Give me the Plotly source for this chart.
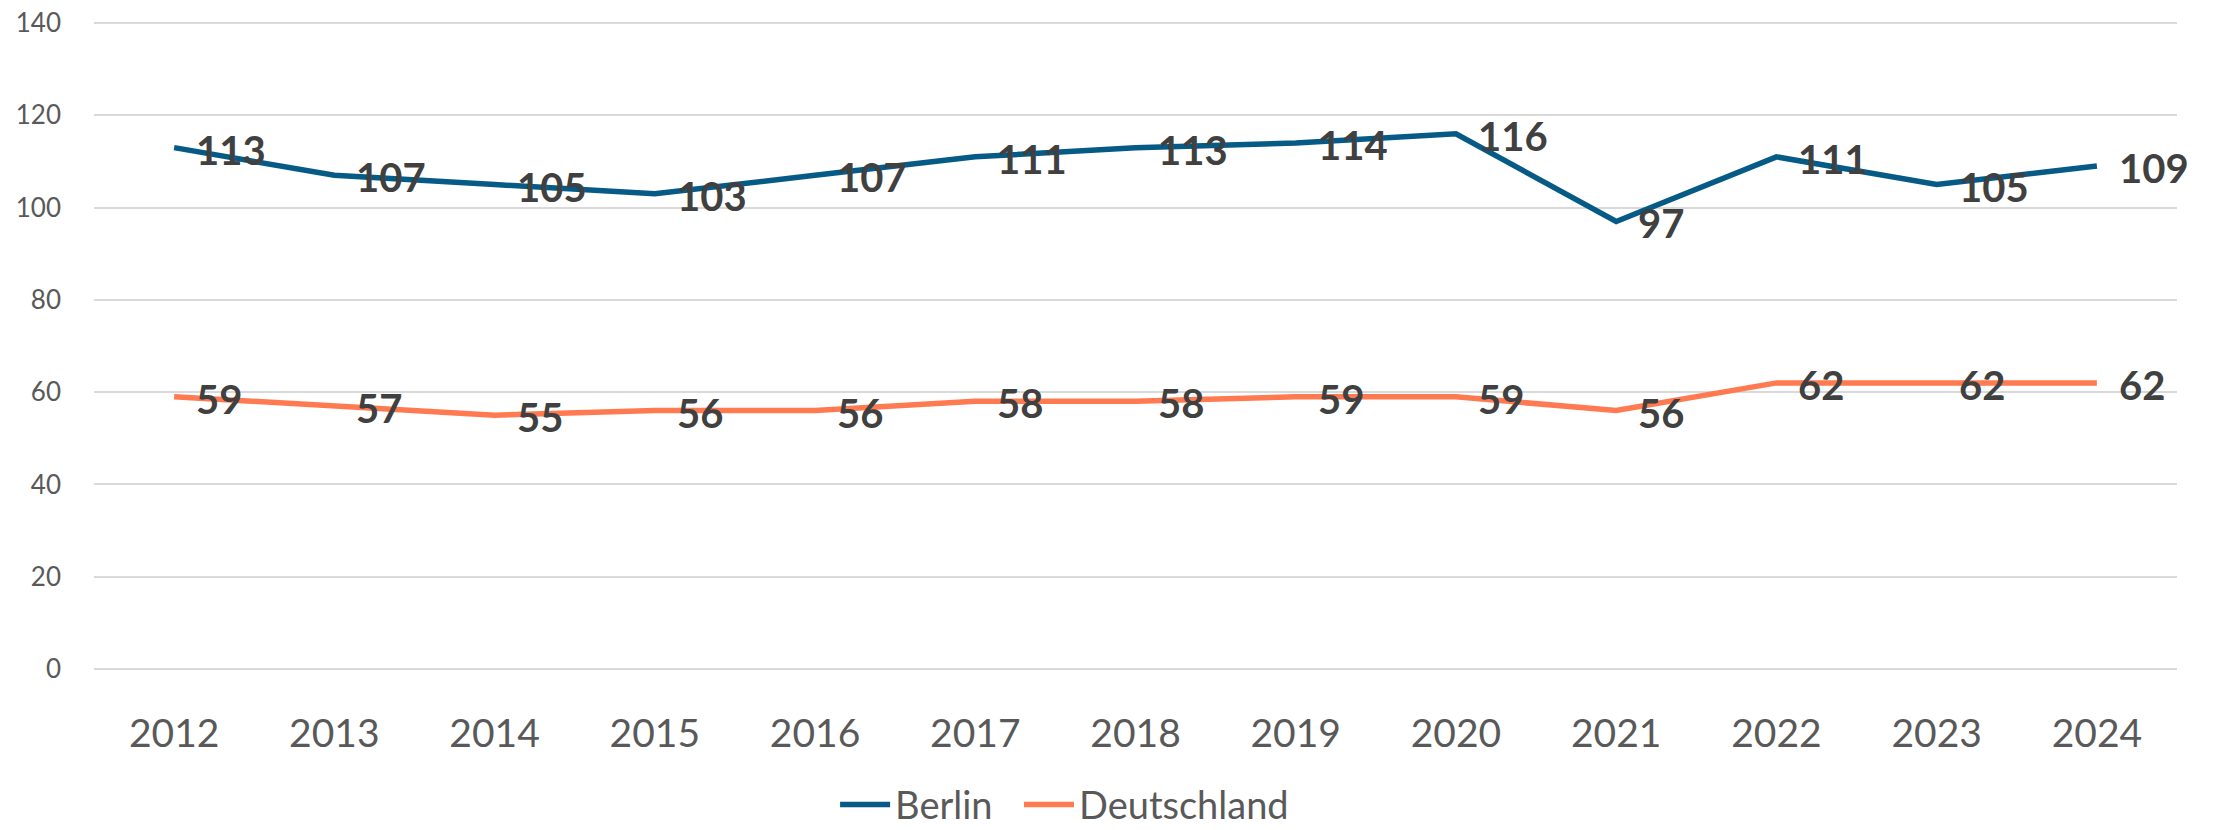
import plotly.graph_objects as go

years = ["2012", "2013", "2014", "2015", "2016", "2017", "2018", "2019", "2020", "2021", "2022", "2023", "2024"]
berlin = [113, 107, 105, 103, 107, 111, 113, 114, 116, 97, 111, 105, 109]
deutschland = [59, 57, 55, 56, 56, 58, 58, 59, 59, 56, 62, 62, 62]
y_ticks = [0, 20, 40, 60, 80, 100, 120, 140]

BLUE = "#065A86"
ORANGE = "#FF7A50"
FONT = "Lato"

fig = go.Figure()
fig.add_trace(go.Scatter(x=years, y=berlin, mode="lines", name="Berlin",
                         line=dict(color=BLUE, width=5.5), legend="legend"))
fig.add_trace(go.Scatter(x=years, y=deutschland, mode="lines", name="Deutschland",
                         line=dict(color=ORANGE, width=5.5), legend="legend2"))

annotations = []
for series in (berlin, deutschland):
    for i, v in enumerate(series):
        annotations.append(dict(x=i, y=v, xref="x", yref="y", text="<b>%d</b>" % v,
                                showarrow=False, xanchor="left", yanchor="middle",
                                xshift=20, yshift=-2,
                                font=dict(family=FONT, size=40, color="#404040")))

legend_style = dict(orientation="h", xref="container", xanchor="left",
                    yref="container", y=0.0304, yanchor="middle",
                    font=dict(family=FONT, size=38, color="#595959"),
                    itemwidth=50, bgcolor="rgba(0,0,0,0)")

fig.update_layout(
    width=2221, height=830,
    margin=dict(l=94, r=44, t=21, b=159, autoexpand=False),
    plot_bgcolor="white", paper_bgcolor="white",
    font=dict(family=FONT, color="#595959"),
    annotations=annotations,
    showlegend=True,
    legend=dict(x=0.376, **legend_style),
    legend2=dict(x=0.4588, **legend_style),
    xaxis=dict(type="category", range=[-0.5, 12.5], showgrid=False, zeroline=False,
               showline=False, ticks="", tickfont=dict(family=FONT, size=39, color="#595959"),
               ticklabelstandoff=36),
    yaxis=dict(range=[-0.45, 140.45], tickvals=y_ticks, showgrid=True, gridcolor="#D9D9D9",
               gridwidth=2, zeroline=False, showline=False, ticks="",
               tickfont=dict(family=FONT, size=26, color="#595959"),
               ticklabelstandoff=32),
)

fig.write_html("out.html", config={"displayModeBar": False},
               post_script="document.body.style.margin='0';")
